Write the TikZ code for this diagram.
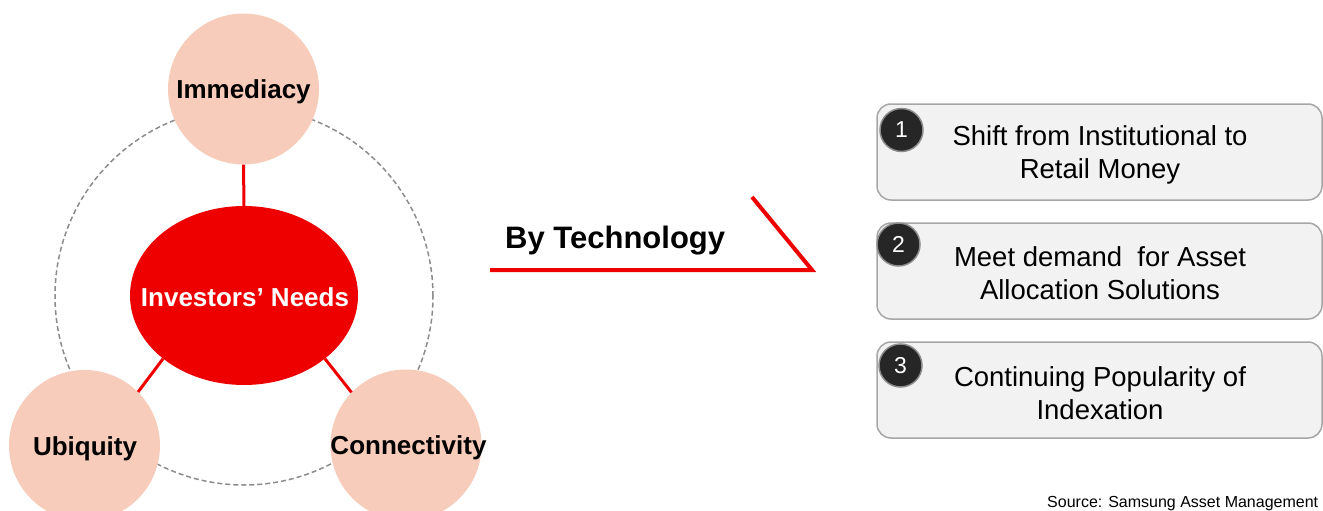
\documentclass[tikz,border=0pt]{standalone}
\usepackage{fontspec}
\setmainfont{Liberation Sans}
\usetikzlibrary{shapes.geometric}
\definecolor{peach}{HTML}{F8CCBA}
\definecolor{needred}{HTML}{EE0000}
\definecolor{boxfill}{HTML}{F2F2F2}
\definecolor{boxline}{HTML}{A6A6A6}
\definecolor{numfill}{HTML}{262626}
\definecolor{ringgray}{HTML}{8C8C8C}
\begin{document}
\begin{tikzpicture}[x=1pt,y=-1pt,
  peachcircle/.style={circle, fill=peach, draw=none, minimum size=151pt, inner sep=0pt},
  peachtext/.style={font=\fontsize{26}{30}\selectfont\bfseries, text=black, inner sep=0pt},
  link/.style={needred, line width=3pt},
  itembox/.style={rectangle, rounded corners=14pt, fill=boxfill, draw=boxline, line width=1.5pt,
    minimum width=445pt, minimum height=96pt},
  itemtext/.style={align=center, font=\fontsize{27.5}{33}\selectfont, inner sep=0pt},
  numcircle/.style={circle, fill=numfill, draw=ringgray, line width=1.5pt, minimum size=43pt,
    inner sep=0pt, text=white, font=\fontsize{23}{26}\selectfont}
]
\useasboundingbox (0,0) rectangle (1323,511);
\clip (0,0) rectangle (1323,511);
\fill[white] (0,0) rectangle (1323,511);

% dashed ring
\node[circle, draw=ringgray, line width=1.5pt, dash pattern=on 5pt off 3pt,
      minimum size=378pt, inner sep=0pt] (ring) at (244,296) {};

% outer circles and centre
\node[ellipse, fill=needred, draw=none, minimum width=228pt, minimum height=179pt, inner sep=0pt] (needs) at (244,295.5) {};
\node[peachcircle] (imm) at (243.5,89) {};
\node[peachcircle] (ubi) at (84.5,445.5) {};
\node[peachcircle] (conn) at (406,445) {};

% links
\draw[link] (needs.north) -- (imm.south);
\draw[link] (needs.218) -- (ubi.45);
\draw[link] (needs.322) -- (conn.136);

% texts
\node[font=\fontsize{26}{30}\selectfont\bfseries, text=white, inner sep=0pt] (needs-t) at (245,297) {Investors’ Needs};
\node[peachtext] (imm-t) at (243.5,92) {Immediacy};
\node[peachtext] (ubi-t) at (85,449) {Ubiquity};
\node[peachtext] (conn-t) at (408.5,448) {Connectivity};

% arrow line
\coordinate (arrS) at (490,270);
\coordinate (arrC) at (812,270);
\coordinate (arrE) at (752,197);
\draw[needred, line width=4pt] (arrS) -- (arrC) -- (arrE);
\node[anchor=base west, font=\fontsize{31}{36}\selectfont\bfseries, inner sep=0pt] (tech) at (505,248) {By Technology};

% item boxes
\node[itembox] (b1) at (1099.5,152) {};
\node[itembox] (b2) at (1099.5,271) {};
\node[itembox] (b3) at (1099.5,390) {};
\node[itemtext] (b1-t) at (1100,154.5) {Shift from Institutional to\\Retail Money};
\node[itemtext] (b2-t) at (1100,273) {Meet demand \ for Asset\\Allocation Solutions};
\node[itemtext] (b3-t) at (1100,393) {Continuing Popularity of\\Indexation};

\node[numcircle] (n1) at (901.5,130) {1};
\node[numcircle] (n2) at (898.5,244.5) {2};
\node[numcircle] (n3) at (900.5,365.5) {3};

% source
\node[anchor=base west, font=\fontsize{16}{18}\selectfont, inner sep=0pt] (src) at (1047,507) {Source: Samsung Asset Management};
\end{tikzpicture}
\end{document}
